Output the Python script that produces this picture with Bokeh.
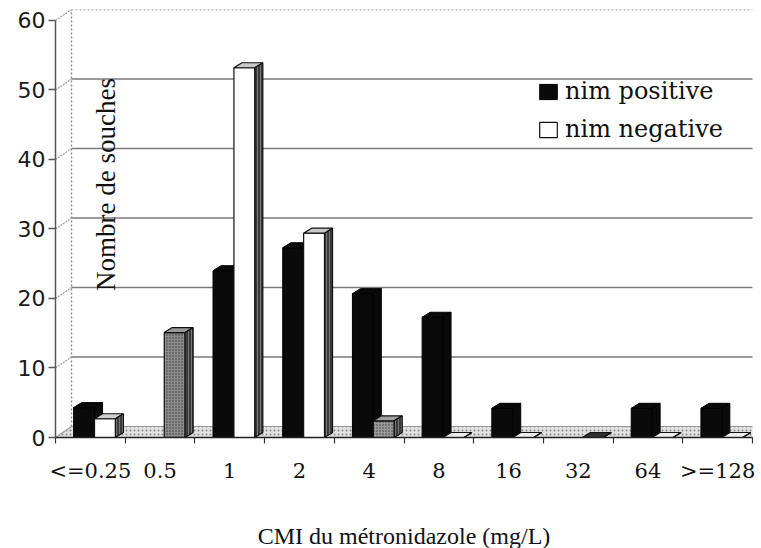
from math import pi
from bokeh.plotting import figure
from bokeh.models import (ColumnDataSource, FixedTicker, Legend, LegendItem,
                          Label, Range1d)
from bokeh.embed import file_html
from bokeh.resources import INLINE

# ---------------- data ----------------
categories = ["<=0.25", "0.5", "1", "2", "4", "8", "16", "32", "64", ">=128"]
nim_positive = [4.3, 0, 24.0, 27.3, 20.7, 17.3, 4.2, 0, 4.2, 4.2]
nim_negative = [2.7, 15.1, 53.2, 29.4, 2.4, 0, 0, 0, 0, 0]
y_ticks = [0, 10, 20, 30, 40, 50, 60]

# per-bar look of the white series (scan shading)
neg_front_fill = ["white", "#8c8c8c", "white", "white", "#9a9a9a",
                  "white", "white", "white", "white", "white"]
neg_front_hatch = [" ", "dot", " ", " ", "dot", " ", " ", " ", " ", " "]
neg_top_fill = ["#d0d0d0", "#9a9a9a", "#c8c8c8", "#c8c8c8", "#a0a0a0",
                "#eeeeee", "#eeeeee", "#303030", "#eeeeee", "#eeeeee"]

# ---------------- geometry (pixels -> data units) ----------------
n = len(categories)
FRAME_W, FRAME_H = 697, 428
PX_X = FRAME_W / n
YMAX = y_ticks[-1] + 1.58
PX_Y = FRAME_H / YMAX
BACK_DX = 16 / PX_X
BACK_DY = YMAX - y_ticks[-1]
BAR_W = 0.30
POS_OFF, NEG_OFF = 0.26, 0.56
DEP_DX = 8 / PX_X
DEP_DY = 5 / PX_Y

p = figure(frame_width=FRAME_W, frame_height=FRAME_H,
           x_range=Range1d(0, n), y_range=Range1d(0, YMAX),
           output_backend="svg", toolbar_location=None,
           min_border_left=55, min_border_right=9, min_border_top=9,
           min_border_bottom=100, background_fill_color="white",
           border_fill_color="white")
p.outline_line_color = None
p.xgrid.visible = False
p.ygrid.visible = False

# ---------------- floor and walls ----------------
p.patch(x=[0, n, n + BACK_DX, BACK_DX], y=[0, 0, BACK_DY, BACK_DY],
        fill_color="#e2e2e2", line_color="#9a9a9a", line_width=1,
        hatch_pattern="dot", hatch_color="#8a8a8a", hatch_scale=4)

grid_src = ColumnDataSource(dict(
    x0=[BACK_DX] * (len(y_ticks) - 2), x1=[n + BACK_DX] * (len(y_ticks) - 2),
    y=[t + BACK_DY for t in y_ticks[1:-1]]))
p.segment(x0="x0", x1="x1", y0="y", y1="y", source=grid_src,
          line_color="#7a7a7a", line_width=1.4)
# top border of back wall
p.segment(x0=[BACK_DX], x1=[n + BACK_DX], y0=[YMAX], y1=[YMAX],
          line_color="#8a8a8a", line_width=1.4, line_dash="2 2")
# back-left edge
p.segment(x0=[BACK_DX], x1=[BACK_DX], y0=[BACK_DY], y1=[YMAX],
          line_color="#8a8a8a", line_width=1.4, line_dash="2 2")
# slanted connectors tick -> back wall
p.segment(x0=[0] * len(y_ticks), x1=[BACK_DX] * len(y_ticks),
          y0=y_ticks, y1=[t + BACK_DY for t in y_ticks],
          line_color="#9a9a9a", line_width=1.2, line_dash="2 1")


def faces(values, off, keep_zero=True):
    xc, top, txs, tys, sxs, sys_ = [], [], [], [], [], []
    idx = []
    for i, v in enumerate(values):
        if v == 0 and not keep_zero:
            continue
        x0 = i + off
        x1 = x0 + BAR_W
        idx.append(i)
        xc.append(x0 + BAR_W / 2)
        top.append(v)
        txs.append([x0, x1, x1 + DEP_DX, x0 + DEP_DX])
        tys.append([v, v, v + DEP_DY, v + DEP_DY])
        sxs.append([x1, x1 + DEP_DX, x1 + DEP_DX, x1])
        sys_.append([0, DEP_DY, v + DEP_DY, v])
    return idx, xc, top, txs, tys, sxs, sys_


# ---------------- nim positive (black) ----------------
idx, xc, top, txs, tys, sxs, sys_ = faces(nim_positive, POS_OFF, keep_zero=False)
pos_front = p.vbar(x=xc, top=top, bottom=0, width=BAR_W,
                   fill_color="#0a0a0a", line_color="#000000", line_width=1)
p.patches(xs=txs, ys=tys, fill_color="#0a0a0a", line_color="#000000", line_width=1)
p.patches(xs=sxs, ys=sys_, fill_color="#0a0a0a", line_color="#000000", line_width=1)

# ---------------- nim negative (white) ----------------
idx, xc, top, txs, tys, sxs, sys_ = faces(nim_negative, NEG_OFF)
neg_src = ColumnDataSource(dict(
    x=xc, top=top,
    fill=[neg_front_fill[i] for i in idx],
    hatch=[neg_front_hatch[i] for i in idx]))
neg_front = p.vbar(x="x", top="top", bottom=0, width=BAR_W, source=neg_src,
                   fill_color="fill", line_color="#111111", line_width=1.2,
                   hatch_pattern="hatch", hatch_color="#3a3a3a", hatch_scale=3)
p.patches(xs=txs, ys=tys, fill_color=[neg_top_fill[i] for i in idx],
          line_color="#111111", line_width=1.2)
p.patches(xs=sxs, ys=sys_, fill_color="#3a3a3a", line_color="#111111",
          line_width=1.2, hatch_pattern="vertical_line", hatch_color="#777777",
          hatch_scale=3)

# ---------------- axes ----------------
p.yaxis.ticker = FixedTicker(ticks=y_ticks)
p.yaxis.bounds = (0, y_ticks[-1])
p.yaxis.major_label_text_font = "DejaVu Sans"
p.yaxis.major_label_text_font_size = "22px"
p.yaxis.major_label_text_color = "#1a1a1a"
p.yaxis.major_tick_out = 7
p.yaxis.major_tick_in = 0
p.yaxis.major_label_standoff = 3
p.yaxis.axis_line_color = "#555555"
p.yaxis.axis_line_width = 1.5
p.yaxis.major_tick_line_color = "#555555"
p.yaxis.major_tick_line_width = 1.5

centers = [i + 0.5 for i in range(n)]
p.xaxis.ticker = FixedTicker(ticks=centers, minor_ticks=list(range(n + 1)))
p.xaxis.major_label_overrides = {c: lab for c, lab in zip(centers, categories)}
p.xaxis.major_tick_out = 0
p.xaxis.major_tick_in = 0
p.xaxis.major_tick_line_color = None
p.xaxis.minor_tick_out = 6
p.xaxis.minor_tick_in = 0
p.xaxis.minor_tick_line_color = "#333333"
p.xaxis.minor_tick_line_width = 1.2
p.xaxis.major_label_text_font = "DejaVu Serif"
p.xaxis.major_label_text_font_size = "21px"
p.xaxis.major_label_text_color = "#111111"
p.xaxis.major_label_standoff = 15
p.xaxis.axis_line_color = "#222222"
p.xaxis.axis_line_width = 1.5
p.xaxis.axis_label = "CMI du métronidazole (mg/L)"
p.xaxis.axis_label_text_font = "Liberation Serif"
p.xaxis.axis_label_text_font_style = "normal"
p.xaxis.axis_label_text_font_size = "24px"
p.xaxis.axis_label_text_color = "#111111"
p.xaxis.axis_label_standoff = 37

# ---------------- y title inside the plot ----------------
p.add_layout(Label(x=50 / PX_X, y=(FRAME_H - 175) / PX_Y,
                   text="Nombre de souches", angle=pi / 2,
                   text_align="center", text_baseline="middle",
                   text_font="Liberation Serif", text_font_size="27px",
                   text_color="#111111"))

# ---------------- legend ----------------
legend = Legend(items=[LegendItem(label="nim positive", renderers=[pos_front]),
                       LegendItem(label="nim negative", renderers=[neg_front])],
                location=(482, 294), orientation="vertical",
                glyph_width=22, glyph_height=19, label_height=19,
                label_standoff=6, spacing=10, padding=0, margin=0,
                border_line_color=None, background_fill_alpha=0,
                label_text_font="DejaVu Serif", label_text_font_size="24px",
                label_text_color="#111111")
p.add_layout(legend)

open("out.html", "w").write(file_html(p, INLINE))
